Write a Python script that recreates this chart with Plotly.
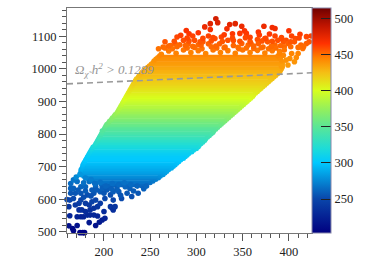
import plotly.graph_objects as go
from plotly.colors import sample_colorscale

Z_MIN, Z_MAX = 203, 514
palette_z = [203, 250, 300, 320, 350, 375, 400, 425, 445, 465, 490, 514]
palette_rgb = ["rgb(0,0,128)", "rgb(10,70,170)", "rgb(0,200,255)", "rgb(30,220,215)", "rgb(90,230,150)",
               "rgb(150,240,90)", "rgb(215,255,30)", "rgb(245,190,20)", "rgb(255,130,0)", "rgb(255,50,0)",
               "rgb(190,20,0)", "rgb(110,0,0)"]
colorscale = [[(z - Z_MIN) / (Z_MAX - Z_MIN), c] for z, c in zip(palette_z, palette_rgb)]

# dense body of the scan, row by row
row_y = [640, 645, 650, 655, 660, 665, 670, 675, 680, 685, 690, 695, 700, 705, 710, 715, 720, 725, 730, 735, 740, 745,
         750, 755, 760, 765, 770, 775, 780, 785, 790, 795, 800, 805, 810, 815, 820, 825, 830, 835, 840, 845, 850, 855,
         860, 865, 870, 875, 880, 885, 890, 895, 900, 905, 910, 915, 920, 925, 930, 935, 940, 945, 950, 955, 960, 965,
         970, 975, 980, 985, 990, 995, 1000, 1005, 1010, 1015, 1020, 1025, 1030, 1035, 1040]
row_left = [202, 197, 192, 188, 184, 181, 178, 176, 175, 175, 175, 176, 177, 177, 178, 179, 180, 181, 182, 183, 184,
            185, 186, 187, 188, 190, 191, 192, 193, 194, 195, 196, 197, 198, 198, 200, 201, 202, 203, 205, 206, 208,
            209, 211, 212, 214, 215, 216, 217, 218, 219, 220, 221, 222, 223, 224, 225, 226, 227, 228, 229, 230, 231,
            232, 233, 234, 235, 237, 238, 240, 241, 243, 245, 247, 249, 251, 253, 254, 256, 258, 260]
row_right = [241, 245, 250, 253, 256, 259, 261, 264, 266, 268, 270, 273, 275, 277, 279, 281, 283, 286, 288, 290, 292,
             295, 297, 300, 302, 303, 305, 307, 309, 310, 312, 314, 316, 318, 319, 321, 323, 325, 327, 329, 331, 333,
             335, 337, 339, 341, 343, 345, 347, 349, 351, 353, 355, 357, 359, 361, 362, 364, 366, 368, 370, 372, 374,
             376, 378, 380, 382, 384, 386, 388, 390, 391, 392, 393, 393, 393, 393, 392, 391, 390, 388]
row_z = [262, 264, 267, 269, 272, 275, 278, 281, 284, 286, 288, 290, 292, 294, 296, 298, 300, 301, 302, 304, 306, 308,
         311, 314, 317, 319, 322, 325, 328, 331, 334, 337, 340, 343, 346, 348, 351, 354, 357, 360, 363, 366, 369, 371,
         374, 377, 380, 382, 385, 387, 390, 392, 395, 397, 400, 402, 404, 406, 408, 410, 412, 414, 416, 418, 419, 421,
         422, 424, 426, 427, 429, 430, 432, 433, 435, 436, 437, 439, 440, 441, 443]

# sparse low-mass points
low_x = [162, 166, 167, 171, 174, 177, 179, 184, 191, 195, 198, 201, 200, 209, 207, 210, 212, 163, 171, 175, 178, 182,
         185, 189, 193, 173, 176, 180, 185, 189, 193, 162, 169, 173, 160, 163, 167, 175, 180, 184, 187, 191, 196, 201,
         210, 219, 230, 237, 225, 216, 207, 169, 175, 182, 189, 196, 164, 167, 175, 184, 164, 171, 164, 167, 180, 191,
         198, 205, 214, 223, 228, 187, 203, 210,
         170, 174, 180, 186, 178, 190, 196, 202, 209, 216, 222, 229, 236, 243, 246, 192, 200, 208, 218, 232, 180, 172,
         186, 178]
low_y = [518, 510, 503, 519, 497, 497, 497, 528, 519, 529, 536, 541, 562, 572, 577, 567, 577, 549, 546, 546, 546, 551,
         551, 551, 548, 567, 567, 562, 567, 572, 577, 577, 582, 587, 599, 597, 602, 597, 587, 582, 592, 597, 587, 602,
         597, 602, 608, 618, 618, 623, 613, 618, 618, 613, 618, 623, 618, 633, 638, 654, 633, 654, 648, 659, 638, 638,
         633, 638, 633, 638, 633, 628, 628, 623,
         668, 676, 665, 660, 650, 648, 652, 640, 648, 645, 650, 645, 640, 632, 640, 628, 618, 632, 612, 625, 625, 628,
         610, 606]
low_z = [214, 210, 207, 215, 205, 205, 205, 219, 215, 219, 223, 226, 232, 236, 238, 234, 238, 228, 226, 226, 226, 230,
         230, 230, 228, 234, 234, 232, 234, 236, 238, 238, 240, 242, 250, 248, 251, 248, 242, 240, 246, 248, 242, 251,
         248, 251, 253, 256, 256, 258, 253, 256, 256, 253, 256, 258, 256, 260, 262, 266, 260, 266, 264, 268, 262, 262,
         260, 262, 260, 262, 260, 258, 258, 258,
         276, 281, 274, 271, 266, 265, 267, 262, 265, 264, 266, 264, 262, 260, 262, 258, 256, 260, 255, 258, 258, 258,
         254, 253]

# sparse high-mass points
high_x = [259, 266, 264, 272, 279, 283, 289, 292, 296, 302, 309, 315, 315, 321, 323, 277, 286, 298, 313, 320, 327, 333,
          336, 330, 339, 307, 291, 282, 302, 313, 325, 334, 406, 342, 347, 349, 352, 354, 353, 367, 368, 373, 379, 382,
          385, 385, 400, 392, 403, 412, 419, 424, 422, 407, 397, 388, 374, 366, 359, 349, 356, 367, 377, 385, 394, 399,
          406, 413, 419, 415, 410, 408, 406, 401, 403, 395, 390, 394, 397, 399, 392, 395,
          262, 270, 278, 286, 294, 302, 310, 318, 326, 334, 342, 350, 358, 366, 374, 382, 390,
          266, 274, 290, 298, 306, 322, 330, 346, 354, 362, 370, 378, 386,
          270, 279, 288, 296, 305, 316, 321, 331, 340, 345, 362, 372, 381, 391, 402, 410, 416,
          276, 292, 304, 316, 328, 340, 347, 358, 371, 382, 402,
          290, 307, 318, 339, 358, 375, 392, 411]
high_y = [1062, 1083, 1067, 1072, 1098, 1103, 1118, 1108, 1101, 1111, 1129, 1139, 1121, 1154, 1142, 1077, 1088, 1088,
          1101, 1093, 1098, 1123, 1136, 1105, 1108, 1083, 1077, 1074, 1074, 1077, 1077, 1088, 1189, 1139, 1109, 1131,
          1117, 1109, 1096, 1113, 1104, 1131, 1107, 1127, 1124, 1101, 1117, 1096, 1101, 1106, 1099, 1101, 1083, 1093,
          1088, 1088, 1093, 1090, 1078, 1078, 1073, 1078, 1083, 1073, 1083, 1078, 1083, 1073, 1078, 1063, 1047, 1035,
          1022, 1032, 1047, 1068, 1053, 1042, 1027, 1012, 1007, 1058,
          1045, 1055, 1048, 1058, 1050, 1056, 1047, 1058, 1050, 1056, 1048, 1058, 1050, 1057, 1049, 1056, 1048,
          1064, 1062, 1064, 1066, 1062, 1064, 1065, 1062, 1064, 1063, 1065, 1062, 1064,
          1070, 1068, 1072, 1069, 1073, 1068, 1070, 1067, 1072, 1066, 1070, 1067, 1069, 1071, 1068, 1066, 1069,
          1085, 1086, 1083, 1086, 1084, 1087, 1085, 1084, 1086, 1085, 1083,
          1095, 1094, 1096, 1095, 1097, 1094, 1093, 1095]
high_z = [449, 456, 451, 452, 460, 462, 467, 464, 461, 465, 472, 477, 468, 482, 478, 453, 458, 458, 461, 459, 460, 469,
          475, 463, 464, 456, 453, 452, 452, 453, 453, 458, 514, 477, 464, 472, 466, 464, 460, 465, 463, 472, 464, 470,
          470, 461, 466, 460, 461, 463, 460, 461, 456, 459, 458, 458, 459, 458, 454, 454, 452, 454, 456, 452, 456, 454,
          456, 452, 454, 449, 444, 442, 439, 441, 444, 451, 446, 443, 440, 437, 436, 448,
          444, 447, 445, 448, 445, 447, 444, 448, 445, 447, 445, 448, 445, 447, 445, 447, 445,
          450, 449, 450, 450, 449, 450, 450, 449, 450, 450, 450, 449, 450,
          452, 451, 452, 451, 453, 451, 452, 451, 452, 450, 452, 451, 451, 452, 451, 450, 451,
          457, 457, 456, 457, 456, 458, 457, 456, 457, 457, 456,
          460, 460, 460, 460, 461, 460, 459, 460]

relic_x = [160, 425]
relic_y = [954, 988]

fig = go.Figure()

row_colors = sample_colorscale(colorscale, [(z - Z_MIN) / (Z_MAX - Z_MIN) for z in row_z])
for y, x0, x1, c in zip(row_y, row_left, row_right, row_colors):
    fig.add_trace(go.Scatter(x=[x0, x1], y=[y, y], mode="lines+markers", line=dict(color=c, width=2.2),
                             marker=dict(color=c, size=5, line=dict(width=0)), hoverinfo="skip"))

all_x = low_x + high_x
all_y = low_y + high_y
all_z = low_z + high_z
fig.add_trace(go.Scatter(
    x=all_x, y=all_y, mode="markers", cliponaxis=False,
    marker=dict(size=5.6, color=all_z, cmin=Z_MIN, cmax=Z_MAX, colorscale=colorscale, line=dict(width=0),
                colorbar=dict(thickness=19, thicknessmode="pixels", len=1, lenmode="fraction", x=1.002, xanchor="left",
                              xpad=0, y=0.5, yanchor="middle", ypad=0, tickvals=[250, 300, 350, 400, 450, 500],
                              ticks="inside", ticklen=10, tickcolor="#222", tickwidth=1,
                              outlinecolor="#8888aa", outlinewidth=1, borderwidth=0,
                              tickfont=dict(family="Liberation Serif", size=12.5, color="#222")))))

fig.add_trace(go.Scatter(x=relic_x, y=relic_y, mode="lines", line=dict(color="#999999", width=1.6, dash="6px,4px"),
                         hoverinfo="skip"))

axis_common = dict(showgrid=False, zeroline=False, showline=True, mirror=True, linecolor="#777777", linewidth=1,
                   ticks="outside", tickcolor="#555555", tickwidth=1, ticklen=7,
                   tickfont=dict(family="Liberation Serif", size=12.5, color="#222"))
fig.update_xaxes(range=[160, 425], tickvals=[200, 250, 300, 350, 400],
                 minor=dict(dtick=10, ticks="outside", ticklen=4, tickcolor="#555555", tickwidth=1), **axis_common)
fig.update_yaxes(range=[496, 1187], tickvals=[500, 600, 700, 800, 900, 1000, 1100],
                 minor=dict(dtick=20, ticks="outside", ticklen=4, tickcolor="#555555", tickwidth=1), **axis_common)

fig.add_annotation(x=167, y=996, xanchor="left", yanchor="middle", showarrow=False,
                   text="<i>Ω<sub>χ̃</sub>&nbsp;h<sup>2</sup> > 0.1289</i>",
                   font=dict(family="Liberation Serif", size=13, color="#949494"))

fig.update_layout(width=390, height=278, margin=dict(l=66.5, r=77.5, t=7.5, b=45), showlegend=False,
                  plot_bgcolor="white", paper_bgcolor="white")
fig.write_html("out.html", post_script="document.body.style.margin='0';", config={"displayModeBar": False})
